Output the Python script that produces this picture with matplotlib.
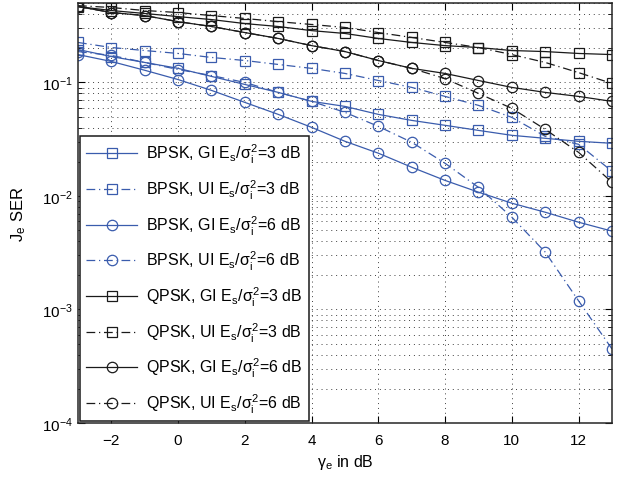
import numpy as np
import matplotlib.pyplot as plt

plt.rcParams['font.family'] = ['Liberation Sans', 'DejaVu Sans']
plt.rcParams['mathtext.fontset'] = 'custom'
plt.rcParams['mathtext.rm'] = 'Liberation Sans'
plt.rcParams['mathtext.it'] = 'Liberation Sans'
plt.rcParams['mathtext.sf'] = 'Liberation Sans'

snr_db = [-3, -2, -1, 0, 1, 2, 3, 4, 5, 6, 7, 8, 9, 10, 11, 12, 13]

bpsk_gi_3 = [0.195, 0.169, 0.150, 0.133, 0.113, 0.096, 0.0817, 0.0681, 0.0615, 0.0523,
             0.0463, 0.0419, 0.0378, 0.0342, 0.0322, 0.0303, 0.0291]
bpsk_ui_3 = [0.225, 0.203, 0.191, 0.180, 0.166, 0.156, 0.144, 0.133, 0.120, 0.104,
             0.0904, 0.0753, 0.0628, 0.0492, 0.0335, 0.0285, 0.0165]
bpsk_gi_6 = [0.176, 0.153, 0.128, 0.106, 0.0851, 0.0667, 0.0523, 0.0402, 0.0303, 0.0238,
             0.0179, 0.0137, 0.0108, 0.00863, 0.00719, 0.00587, 0.00490]
bpsk_ui_6 = [0.187, 0.173, 0.150, 0.130, 0.115, 0.100, 0.0817, 0.0681, 0.0545, 0.0410,
             0.0297, 0.0194, 0.0119, 0.00650, 0.00320, 0.00119, 0.000449]
qpsk_gi_3 = [0.466, 0.430, 0.405, 0.380, 0.358, 0.330, 0.311, 0.286, 0.270, 0.244,
             0.225, 0.211, 0.203, 0.191, 0.187, 0.180, 0.176]
qpsk_ui_3 = [0.475, 0.457, 0.430, 0.413, 0.388, 0.366, 0.343, 0.324, 0.305, 0.275,
             0.249, 0.225, 0.203, 0.176, 0.150, 0.122, 0.098]
qpsk_gi_6 = [0.466, 0.413, 0.388, 0.343, 0.311, 0.275, 0.244, 0.211, 0.187, 0.156,
             0.133, 0.120, 0.104, 0.0904, 0.0817, 0.0753, 0.0681]
qpsk_ui_6 = [0.466, 0.413, 0.388, 0.343, 0.311, 0.275, 0.244, 0.211, 0.187, 0.156,
             0.133, 0.108, 0.0800, 0.0591, 0.0386, 0.0242, 0.0132]

blue = '#3a5cad'
black = '#1a1a1a'
dashdot = (0, (7, 3, 1, 3))

series = [
    (bpsk_gi_3, blue, '-', 's', r'BPSK, GI E$_s$/$\sigma_i^2$=3 dB'),
    (bpsk_ui_3, blue, dashdot, 's', r'BPSK, UI E$_s$/$\sigma_i^2$=3 dB'),
    (bpsk_gi_6, blue, '-', 'o', r'BPSK, GI E$_s$/$\sigma_i^2$=6 dB'),
    (bpsk_ui_6, blue, dashdot, 'o', r'BPSK, UI E$_s$/$\sigma_i^2$=6 dB'),
    (qpsk_gi_3, black, '-', 's', r'QPSK, GI E$_s$/$\sigma_i^2$=3 dB'),
    (qpsk_ui_3, black, dashdot, 's', r'QPSK, UI E$_s$/$\sigma_i^2$=3 dB'),
    (qpsk_gi_6, black, '-', 'o', r'QPSK, GI E$_s$/$\sigma_i^2$=6 dB'),
    (qpsk_ui_6, black, dashdot, 'o', r'QPSK, UI E$_s$/$\sigma_i^2$=6 dB'),
]

fig = plt.figure(figsize=(6.26, 4.81), dpi=100)
ax = fig.add_axes([0.1246, 0.1185, 0.853, 0.873])

for values, color, ls, marker, label in series:
    ax.plot(snr_db, values, color=color, linestyle=ls, linewidth=0.9,
            marker=marker, markersize=7.5 if marker == 'o' else 6.5,
            markerfacecolor='none', markeredgewidth=0.9, label=label)

ax.set_yscale('log')
ax.set_xlim(-3, 13)
ax.set_ylim(1e-4, 0.5)
ax.set_xticks([-2, 0, 2, 4, 6, 8, 10, 12])

ax.grid(True, which='major', axis='x', linestyle=(0, (1, 4)), linewidth=0.7, color='0.25')
ax.grid(True, which='both', axis='y', linestyle=(0, (1, 4)), linewidth=0.7, color='0.25')

ax.tick_params(which='both', direction='in', top=True, right=True, labelsize=11)
ax.tick_params(which='major', length=5)
ax.tick_params(which='minor', length=3)
ax.tick_params(axis='x', pad=7)
for spine in ax.spines.values():
    spine.set_linewidth(1.1)
    spine.set_color('#262626')

ax.set_xlabel(r'$\gamma_e$ in dB', fontsize=11.5, labelpad=4)
ax.set_ylabel(r'J$_e$ SER', fontsize=12, labelpad=10)

leg = ax.legend(loc='lower left', bbox_to_anchor=(0.0, 0.0), borderaxespad=0.1,
                fontsize=11.5, labelspacing=0.78, handlelength=3.2, handletextpad=0.55,
                borderpad=0.4, fancybox=False, framealpha=1)
leg.get_frame().set_edgecolor('#1a1a1a')
leg.get_frame().set_linewidth(1.1)

fig.savefig('out.png', dpi=100)
